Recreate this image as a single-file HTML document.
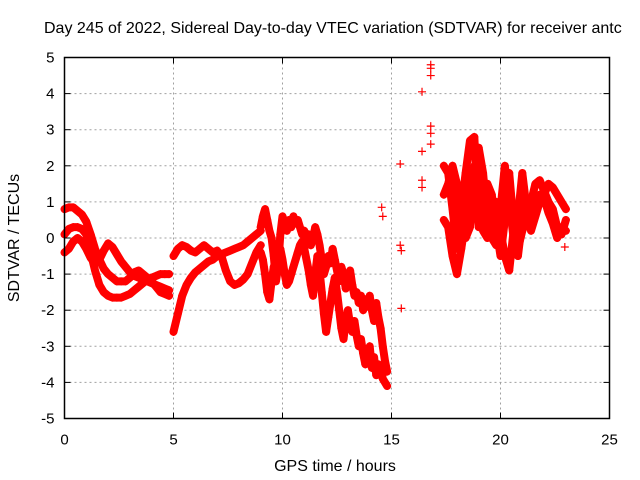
<!DOCTYPE html>
<html><head><meta charset="utf-8"><style>
body{margin:0;background:#fff}
svg{display:block;font-family:"Liberation Sans",sans-serif}
</style></head><body>
<svg id="chart" width="640" height="480" viewBox="0 0 640 480">
<rect width="640" height="480" fill="#fff"/>
<text x="44" y="33" font-size="16" fill="#000">Day 245 of 2022, Sidereal Day-to-day VTEC variation (SDTVAR) for receiver antc</text>
<g id="grid"></g>
<g id="marks"></g>
<g id="axes"></g>
<text transform="translate(19,238) rotate(-90)" text-anchor="middle" font-size="16">SDTVAR / TECUs</text>
<text x="335" y="471" text-anchor="middle" font-size="16">GPS time / hours</text>
</svg>
<script>
const xTicks=[0,5,10,15,20,25];
const yTicks=[-5,-4,-3,-2,-1,0,1,2,3,4,5];
const trackStarts=[0,0,0,5,5,9,9,17.4,17.4,17.4];
const trackSteps=[0.2,0.2,0.2,0.2,0.2,0.1,0.1,0.2,0.2,0.2];
const trackA=[0.8,0.85,0.85,0.75,0.65,0.45,0.1,-0.3,-0.6,-0.85,-1.0,-1.1,-1.2,-1.2,-1.2,-1.1,-0.95,-0.9,-1.0,-1.1,-1.2,-1.35,-1.5,-1.55,-1.6];
const trackB=[0.1,0.25,0.3,0.3,0.25,0.1,-0.4,-0.9,-1.3,-1.5,-1.6,-1.65,-1.65,-1.65,-1.6,-1.55,-1.45,-1.35,-1.25,-1.15,-1.1,-1.05,-1.0,-1.0,-1.0];
const trackC=[-0.4,-0.3,-0.1,0.0,-0.1,-0.3,-0.55,-0.7,-0.6,-0.35,-0.15,-0.25,-0.45,-0.65,-0.8,-0.95,-1.05,-1.1,-1.15,-1.2,-1.25,-1.3,-1.35,-1.4,-1.45];
const trackD=[-2.6,-2.1,-1.6,-1.3,-1.1,-0.95,-0.85,-0.75,-0.65,-0.6,-0.5,-0.45,-0.4,-0.35,-0.3,-0.25,-0.2,-0.1,0.0,0.1,0.2];
const trackE=[-0.5,-0.3,-0.2,-0.25,-0.35,-0.4,-0.3,-0.2,-0.3,-0.4,-0.35,-0.5,-0.9,-1.2,-1.3,-1.25,-1.15,-1.0,-0.7,-0.4,-0.2];
const trackF=[0.3,0.6,0.8,0.5,0.2,0.0,-0.5,-1.2,-0.8,0.1,0.6,0.4,0.2,0.5,0.3,0.6,0.4,0.5,0.3,0.1,0.2,0.0,0.1,-0.2,0.0,0.3,0.1,-0.2,-0.6,-1.0,-0.8,-0.5,-0.7,-0.3,-0.6,-0.9,-1.2,-0.8,-1.0,-1.4,-1.2,-0.9,-1.3,-1.6,-1.5,-1.8,-1.6,-2.0,-1.7,-1.9,-1.6,-2.0,-2.3,-1.8,-2.2,-2.5,-3.0,-3.4,-3.7];
const trackG=[-0.4,-0.6,-1.0,-1.5,-1.7,-1.2,-0.8,-0.6,-0.4,-0.3,-0.6,-1.0,-1.3,-1.2,-1.0,-0.8,-0.6,-0.4,-0.2,-0.1,-0.3,-0.6,-0.9,-1.3,-1.6,-1.0,-0.5,-0.9,-1.5,-2.1,-2.6,-2.2,-1.8,-1.4,-1.1,-1.5,-2.0,-2.5,-2.8,-2.3,-2.0,-2.4,-2.6,-2.3,-2.7,-3.0,-2.8,-3.2,-3.5,-3.3,-3.0,-3.6,-3.3,-3.8,-3.5,-3.6,-3.9,-4.0,-4.1];
const trackP=[1.2,1.5,2.0,1.5,0.5,0.0,0.3,1.5,2.5,1.8,0.5,0.0,-0.2,0.8,2.0,1.0,0.0,-0.5,0.5,0.8,1.0,1.5,1.6,1.3,1.0,0.8,0.3,0.1,0.5];
const trackQ=[0.5,0.3,-0.5,-1.0,-0.3,0.5,1.5,2.0,1.0,0.2,0.0,0.5,1.0,0.2,-0.5,-0.9,0.2,0.6,1.8,0.8,0.2,0.6,1.0,1.2,1.5,1.4,1.2,1.0,0.8];
const trackR=[2.0,1.8,0.8,-0.3,0.8,1.8,2.7,2.8,0.3,0.8,1.5,1.2,0.3,-0.5,0.5,1.8,0.4,-0.3,0.2,0.5,0.3,0.9,1.2,1.1,0.7,0.4,0.0,0.3,0.2];
const tracks=[trackA,trackB,trackC,trackD,trackE,trackF,trackG,trackP,trackQ,trackR];
const sparseT=[14.55,14.6,14.6,15.4,15.4,15.45,15.45,16.4,16.4,16.4,16.4,16.8,16.8,16.8,16.8,16.8,16.8,22.95];
const sparseV=[0.85,0.6,-3.8,2.05,-0.2,-0.35,-1.95,4.05,2.4,1.6,1.4,4.8,4.7,4.5,3.1,2.9,2.6,-0.25];

const L=64.5,R=609.5,T=57.5,B=418.5;
const X=t=>L+(t-0)/25*(R-L);
const Y=v=>B-(v+5)/10*(B-T);
const NS='http://www.w3.org/2000/svg';
function mk(tag,attrs,parent){const e=document.createElementNS(NS,tag);for(const k in attrs)e.setAttribute(k,attrs[k]);parent.appendChild(e);return e;}
const grid=document.getElementById('grid'),axes=document.getElementById('axes'),marks=document.getElementById('marks');
xTicks.forEach(t=>{
  if(t>0&&t<25){const g=mk('line',{x1:X(t),x2:X(t),y1:T,y2:B,stroke:'#a0a0a0','stroke-dasharray':'2,3'},grid);
  
  }
  mk('line',{x1:X(t),x2:X(t),y1:B,y2:B-6,stroke:'#000'},axes);
  mk('line',{x1:X(t),x2:X(t),y1:T,y2:T+6,stroke:'#000'},axes);
  const lb=mk('text',{x:X(t),y:B+26,'text-anchor':'middle','font-size':'15'},axes);lb.textContent=t;
  
  
});
yTicks.forEach(v=>{
  if(v>-5&&v<5){const g=mk('line',{x1:L,x2:R,y1:Y(v),y2:Y(v),stroke:'#a0a0a0','stroke-dasharray':'2,3'},grid);
  
  }
  mk('line',{x1:L,x2:L+6,y1:Y(v),y2:Y(v),stroke:'#000'},axes);
  mk('line',{x1:R,x2:R-6,y1:Y(v),y2:Y(v),stroke:'#000'},axes);
  const lb=mk('text',{x:L-10,y:Y(v)+5,'text-anchor':'end','font-size':'15'},axes);lb.textContent=v;
  
  
});
mk('rect',{x:L,y:T,width:R-L,height:B-T,fill:'none',stroke:'#000','stroke-width':1.5},axes);
function plus(t,v){
  const x=X(t),y=Y(v);
  const p=mk('path',{d:`M${x-4},${y}h8M${x},${y-4}v8`,stroke:'#f00','stroke-width':1.2,fill:'none'},marks);
  
  
}
tracks.forEach((vals,i)=>{
  const pts=vals.map((v,j)=>[trackStarts[i]+j*trackSteps[i],v]);
  const pl=mk('polyline',{points:pts.map(p=>X(p[0])+','+Y(p[1])).join(' '),fill:'none',stroke:'#f00','stroke-width':8,'stroke-linejoin':'round','stroke-linecap':'round'},marks);
  
  
  pts.forEach(p=>plus(p[0],p[1]));
});
sparseT.forEach((t,i)=>plus(t,sparseV[i]));
</script>
</body></html>
